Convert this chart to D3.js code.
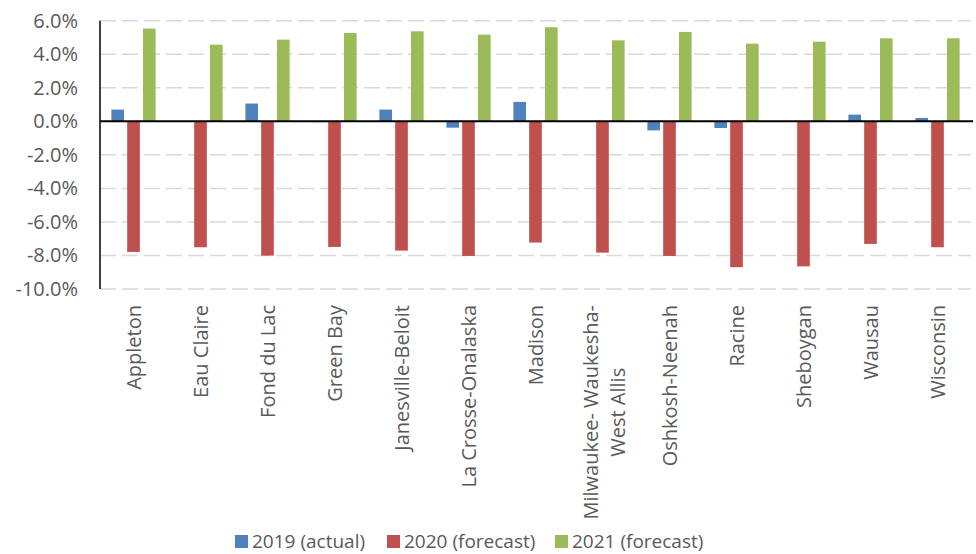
<!DOCTYPE html>
<html><head><meta charset="utf-8">
<script src="https://cdn.jsdelivr.net/npm/d3@7"></script>
<style>html,body{margin:0;padding:0;background:#fff;} svg{display:block;}</style>
</head><body>
<div id="chart"></div>
<script>
const categories = ["Appleton","Eau Claire","Fond du Lac","Green Bay","Janesville-Beloit","La Crosse-Onalaska","Madison","Milwaukee- Waukesha-\nWest Allis","Oshkosh-Neenah","Racine","Sheboygan","Wausau","Wisconsin"];
const seriesNames = ["2019 (actual)","2020 (forecast)","2021 (forecast)"];
const values2019 = [0.70, 0.00, 1.06, -0.05, 0.70, -0.38, 1.16, 0.00, -0.54, -0.40, 0.00, 0.40, 0.20];
const values2020 = [-7.79, -7.51, -8.01, -7.49, -7.71, -8.03, -7.23, -7.83, -8.03, -8.70, -8.65, -7.31, -7.51];
const values2021 = [5.53, 4.57, 4.87, 5.27, 5.37, 5.17, 5.61, 4.83, 5.33, 4.63, 4.75, 4.95, 4.95];
const yTicks = [6, 4, 2, 0, -2, -4, -6, -8, -10];
const colors = ["#4F81BD", "#C0504D", "#9BBB59"];

const W = 976, H = 554;
const m = {left: 100, right: 5};
const svg = d3.select("#chart").append("svg").attr("width", W).attr("height", H);

const x = d3.scaleBand().domain(categories).range([m.left, W - m.right]).paddingInner(0).paddingOuter(0);
const y = d3.scaleLinear().domain([-10, 6]).range([289, 20.7]);
const band = x.bandwidth();
const groupW = band * 0.66;
const x1 = d3.scaleBand().domain(seriesNames).range([(band - groupW) / 2, (band + groupW) / 2]).paddingInner(0.2);

// gridlines
svg.append("g").selectAll("line").data(yTicks.filter(t => t !== 0)).join("line")
  .attr("x1", m.left).attr("x2", W - m.right)
  .attr("y1", d => y(d)).attr("y2", d => y(d))
  .attr("stroke", "#d9d9d9").attr("stroke-width", 1.5).attr("stroke-dasharray", "16,6");

// y axis labels
const yAxis = d3.axisLeft(y).tickValues(yTicks).tickFormat(d => d.toFixed(1) + "%").tickSize(0).tickPadding(22);
const ya = svg.append("g").attr("transform", `translate(${m.left},0)`).call(yAxis);
ya.select(".domain").remove();
ya.selectAll("text").attr("font-family", "'Open Sans', sans-serif").attr("font-size", 20).attr("fill", "#595959");

// bars
const data = categories.map((c, i) => ({c, vals: [values2019[i], values2020[i], values2021[i]]}));
const groups = svg.append("g").selectAll("g").data(data).join("g")
  .attr("transform", d => `translate(${x(d.c)},0)`);
groups.selectAll("rect").data(d => d.vals.map((v, j) => ({v, s: seriesNames[j], j}))).join("rect")
  .attr("x", d => x1(d.s))
  .attr("width", x1.bandwidth())
  .attr("y", d => y(Math.max(0, d.v)))
  .attr("height", d => Math.abs(y(d.v) - y(0)))
  .attr("fill", d => colors[d.j]);

// y axis line and zero line
svg.append("line").attr("x1", m.left).attr("x2", m.left).attr("y1", y(6)).attr("y2", y(-10))
  .attr("stroke", "#000").attr("stroke-width", 1.5);
svg.append("line").attr("x1", m.left).attr("x2", W - 3).attr("y1", y(0)).attr("y2", y(0))
  .attr("stroke", "#000").attr("stroke-width", 2);

// category labels
const xAxis = d3.axisBottom(x).tickSize(0).tickFormat("");
const xa = svg.append("g").attr("transform", `translate(0,${y(-10)})`).call(xAxis);
xa.select(".domain").remove();
xa.selectAll(".tick").each(function(d) {
  const lines = d.split("\n");
  const g = d3.select(this);
  const lh = 27;
  const texts = lines.map((ln, k) => {
    const off = (k - (lines.length - 1) / 2) * lh + (lines.length > 1 ? 2 : 0);
    return g.append("text")
      .attr("text-anchor", "middle")
      .attr("dy", "0.35em")
      .attr("font-family", "'Open Sans', sans-serif")
      .attr("font-size", 20)
      .attr("fill", "#595959")
      .attr("data-off", off)
      .text(ln);
  });
  const maxLen = d3.max(texts, t => t.node().getComputedTextLength());
  texts.forEach(t => {
    const off = +t.attr("data-off");
    t.attr("transform", `translate(${off},${16 + maxLen / 2}) rotate(-90)`);
  });
});

// legend
const legendX = [235, 387, 555];
const lg = svg.append("g").selectAll("g").data(seriesNames).join("g")
  .attr("transform", (d, i) => `translate(${legendX[i]},535)`);
lg.append("rect").attr("width", 13).attr("height", 13).attr("fill", (d, i) => colors[i]);
lg.append("text").attr("x", 17).attr("y", 13).attr("font-family", "'Open Sans', sans-serif")
  .attr("font-size", 19).attr("fill", "#595959").text(d => d);
</script>
</body></html>
